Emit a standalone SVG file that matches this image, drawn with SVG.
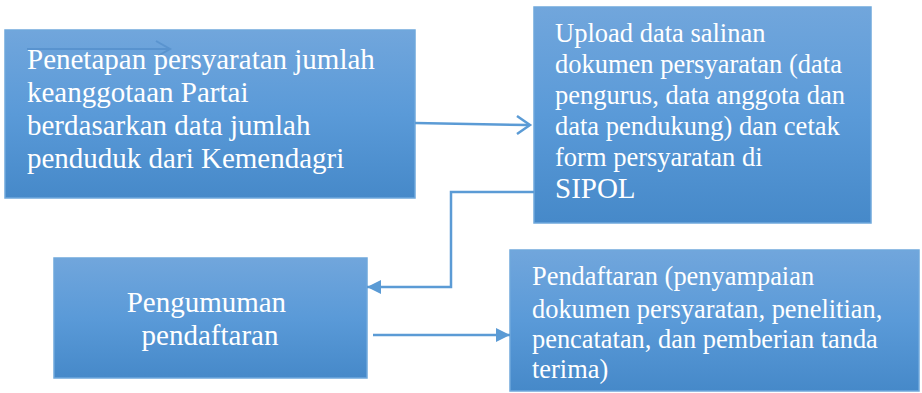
<svg xmlns="http://www.w3.org/2000/svg" width="922" height="393" viewBox="0 0 922 393">
<defs>
<linearGradient id="g" x1="0" y1="0" x2="0" y2="1">
<stop offset="0" stop-color="#71a6dc"/>
<stop offset="0.5" stop-color="#5a9ad8"/>
<stop offset="1" stop-color="#4689c9"/>
</linearGradient>
<marker id="fill" viewBox="0 0 10 10" refX="10" refY="5" markerWidth="15" markerHeight="14" markerUnits="userSpaceOnUse" orient="auto">
<path d="M0,0 L10,5 L0,10 Z" fill="#5b9bd5"/>
</marker>
</defs>
<style>
.box{fill:url(#g);stroke:#6fa8dc;stroke-width:1.5}
.t{fill:#ffffff;font-family:"Liberation Serif","Times New Roman",serif}
.c{fill:none;stroke:#5b9bd5;stroke-width:2.5}
</style>
<g id="node-penetapan">
<rect class="box" x="5" y="30" width="410" height="168"/>
<path d="M27,49 L170,49 M156,41 L170,49 L156,57" fill="none" stroke="#4a87c4" stroke-opacity="0.55" stroke-width="2"/>
<text class="t" font-size="29">
<tspan x="27" y="69">Penetapan persyaratan jumlah</tspan>
<tspan x="27" y="102">keanggotaan Partai</tspan>
<tspan x="27" y="135">berdasarkan data jumlah</tspan>
<tspan x="27" y="168">penduduk dari Kemendagri</tspan>
</text>
</g>
<g id="node-upload">
<rect class="box" x="534" y="7" width="337" height="216"/>
<text class="t" font-size="26.5">
<tspan x="555" y="42">Upload data salinan</tspan>
<tspan x="555" y="73">dokumen persyaratan (data</tspan>
<tspan x="555" y="104">pengurus, data anggota dan</tspan>
<tspan x="555" y="135">data pendukung) dan cetak</tspan>
<tspan x="555" y="166">form persyaratan di</tspan>
<tspan x="555" y="198" font-size="29">SIPOL</tspan>
</text>
</g>
<g id="node-pengumuman">
<rect class="box" x="54" y="258" width="313" height="120"/>
<text class="t" font-size="29" text-anchor="middle">
<tspan x="210" y="312">Pengumuman</tspan>
<tspan x="210" y="345">pendaftaran</tspan>
</text>
</g>
<g id="node-pendaftaran">
<rect class="box" x="510" y="250" width="409" height="141"/>
<text class="t" font-size="26.4">
<tspan x="532" y="285">Pendaftaran (penyampaian</tspan>
<tspan x="532" y="318">dokumen persyaratan, penelitian,</tspan>
<tspan x="532" y="348">pencatatan, dan pemberian tanda</tspan>
<tspan x="532" y="378">terima)</tspan>
</text>
</g>
<g id="connectors">
<path class="c" d="M415,123 L529,125"/>
<path d="M517,116 L530,125 L517,134" fill="none" stroke="#5b9bd5" stroke-width="2.5"/>
<path class="c" d="M534,192 L451,192 L451,287 L367,287" marker-end="url(#fill)"/>
<path class="c" d="M373,335 L510,335" marker-end="url(#fill)"/>
</g>
</svg>
